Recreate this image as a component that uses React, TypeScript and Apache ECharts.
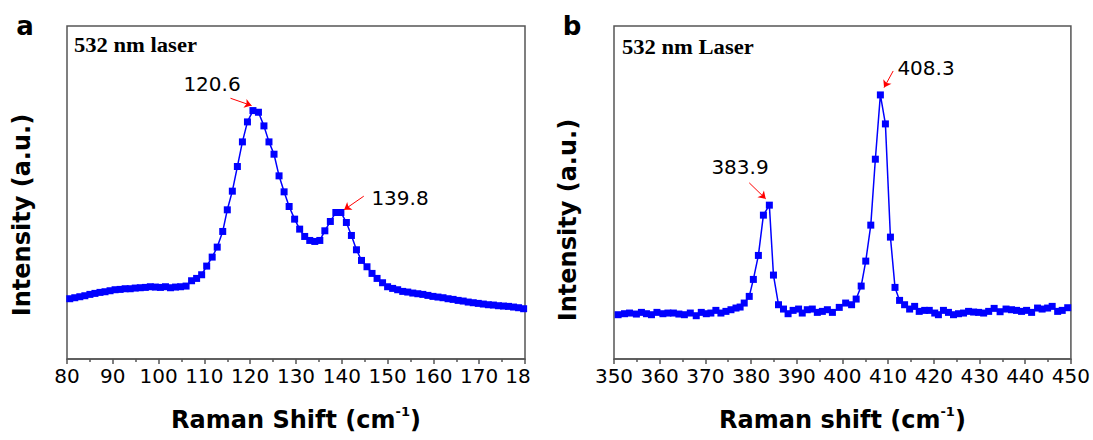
import React, { useEffect, useRef } from "react";
import * as echarts from "echarts";

// Panel a: Raman shift (cm^-1) and intensity (a.u., 0-100 scale)
const leftX = [
  80.6, 81.7, 82.8, 83.9, 85.0, 86.1, 87.2, 88.3, 89.4, 90.5, 91.6, 92.7, 93.8, 94.9, 96.0, 97.1,
  98.2, 99.3, 100.4, 101.5, 102.6, 103.7, 104.8, 106.0, 107.2, 108.3, 109.4, 110.5, 111.7, 112.8,
  114.0, 115.0, 116.1, 117.2, 118.3, 119.4, 120.6, 121.8, 123.0, 124.1, 125.2, 126.3, 127.4, 128.5,
  129.7, 130.8, 131.9, 133.0, 134.1, 135.2, 136.3, 137.5, 138.7, 139.8, 141.0, 142.1, 143.2, 144.3,
  145.5, 146.6, 147.7, 148.9, 150.0, 151.1, 152.2, 153.3, 154.4, 155.5, 156.6, 157.7, 158.8, 159.9,
  161.0, 162.1, 163.2, 164.3, 165.4, 166.5, 167.6, 168.7, 169.8, 170.9, 172.0, 173.1, 174.2, 175.3,
  176.4, 177.5, 178.6, 179.7,
];
const leftY = [
  18.1, 18.4, 18.7, 19.0, 19.4, 19.7, 20.0, 20.2, 20.5, 20.8, 20.9, 21.1, 21.1, 21.3, 21.4, 21.5,
  21.7, 21.6, 21.5, 21.7, 21.4, 21.6, 21.7, 21.9, 23.5, 24.2, 25.3, 27.9, 30.6, 33.6,
  38.3, 44.8, 50.4, 57.8, 65.2, 71.2, 74.6, 74.1, 70.0, 65.2, 61.5, 55.0, 50.2, 45.8,
  42.0, 39.0, 36.8, 35.6, 35.3, 35.6, 38.5, 41.3, 44.0, 44.0, 41.0, 37.1, 32.8, 29.6,
  27.7, 25.7, 24.2, 22.9, 21.7, 21.2, 20.8, 20.3, 20.1, 19.8, 19.6, 19.4, 19.1, 18.8,
  18.6, 18.4, 18.1, 17.9, 17.6, 17.4, 17.1, 16.9, 16.7, 16.5, 16.3, 16.2, 16.0, 15.9,
  15.8, 15.6, 15.4, 15.1,
];

// Panel b
const rightX = [
  350.9, 352.3, 353.4, 354.9, 356.0, 357.1, 358.2, 359.4, 360.7, 361.8, 363.0, 364.2, 365.4, 366.7,
  368.0, 369.1, 370.2, 371.2, 372.3, 373.4, 374.5, 375.6, 376.7, 377.6, 378.5, 379.6, 380.5, 381.6,
  382.7, 384.0, 384.9, 386.0, 387.1, 388.1, 389.2, 390.4, 391.2, 392.3, 393.4, 394.5, 395.6, 396.7,
  397.8, 399.3, 400.7, 402.0, 403.0, 404.1, 405.1, 406.2, 407.2, 408.3, 409.4, 410.5, 411.5, 412.5,
  413.6, 414.7, 415.8, 416.8, 418.0, 419.0, 420.2, 421.0, 422.1, 423.2, 424.3, 425.4, 426.5, 427.6,
  428.7, 429.8, 430.9, 432.0, 433.2, 434.5, 435.8, 437.0, 438.1, 439.2, 440.3, 441.4, 442.7, 443.7,
  444.9, 445.9, 447.1, 448.1, 449.3,
];
const rightY = [
  13.3, 13.6, 13.8, 13.5, 14.0, 13.6, 13.3, 14.0, 13.6, 13.8, 13.8, 13.5, 13.3, 13.8,
  13.0, 14.0, 13.6, 13.8, 14.6, 13.8, 14.3, 14.8, 15.3, 15.6, 16.8, 18.8, 23.9, 31.1,
  43.2, 46.2, 25.2, 16.3, 15.0, 13.6, 14.6, 15.0, 13.8, 14.8, 15.0, 14.0, 14.3, 14.8,
  14.0, 15.5, 16.8, 16.3, 18.0, 21.9, 29.4, 40.2, 60.0, 79.3, 70.6, 36.6, 21.5, 17.6,
  16.3, 15.0, 15.8, 14.3, 14.6, 14.6, 13.8, 13.3, 14.6, 14.0, 13.3, 13.6, 13.8, 14.3,
  14.1, 14.0, 13.8, 14.3, 15.2, 14.2, 15.0, 14.8, 14.6, 14.3, 14.6, 14.0, 15.3, 15.0,
  15.3, 15.8, 14.3, 14.6, 15.4,
];

// Peak annotations: label and arrow (from -> to) in data coordinates
const leftPeakLabels = ["120.6", "139.8"];
const leftArrows = [
  [[115.7, 78.3], [120.3, 76.1]],
  [[144.8, 48.9], [140.5, 44.8]],
];
const rightPeakLabels = ["383.9", "408.3"];
const rightArrows = [
  [[379.6, 52.9], [383.2, 48.1]],
  [[411.1, 86.5], [409.1, 81.5]],
];

const BLUE = "#0000ff";
const FRAME = "#555555";

function makeXAxis(gridIndex: number, min: number, max: number, name: string, lastCut: boolean) {
  return {
    type: "value",
    gridIndex,
    min,
    max,
    interval: 10,
    name,
    nameLocation: "middle",
    nameGap: 46,
    nameTextStyle: {
      fontFamily: "DejaVu Sans",
      fontWeight: "bold",
      fontSize: 24,
      color: "#000",
      lineHeight: 30,
      rich: {
        sup: {
          fontFamily: "DejaVu Sans",
          fontWeight: "bold",
          fontSize: 13,
          lineHeight: 13,
          verticalAlign: "top",
          color: "#000",
        },
      },
    },
    axisLine: { show: true, lineStyle: { color: FRAME, width: 1.5 } },
    axisTick: { show: true, inside: false, length: 5, lineStyle: { color: FRAME, width: 1.5 } },
    minorTick: { show: true, splitNumber: 2, length: 3, lineStyle: { color: FRAME, width: 1.5 } },
    splitLine: { show: false },
    minorSplitLine: { show: false },
    axisLabel: {
      fontFamily: "DejaVu Sans",
      fontSize: 20,
      color: "#000",
      margin: 7,
      formatter: (v: number) => (lastCut && v === max ? "{cut|18}" : String(v)),
      rich: {
        cut: { fontFamily: "DejaVu Sans", fontSize: 20, color: "#000", padding: [0, 14, 0, 0] },
      },
    },
  };
}

function makeYAxis(gridIndex: number) {
  return {
    type: "value",
    gridIndex,
    min: 0,
    max: 100,
    axisLine: { show: false },
    axisTick: { show: false },
    axisLabel: { show: false },
    splitLine: { show: false },
  };
}

function makeSeries(idx: number, xs: number[], ys: number[], arrows: number[][][]) {
  return {
    type: "line",
    xAxisIndex: idx,
    yAxisIndex: idx,
    data: xs.map((x, i) => [x, ys[i]]),
    symbol: "rect",
    symbolSize: 7,
    itemStyle: { color: BLUE },
    lineStyle: { color: BLUE, width: 1.5 },
    markLine: {
      silent: true,
      symbol: ["none", "arrow"],
      symbolSize: 7,
      lineStyle: { color: "#ff0000", width: 1, type: "solid" },
      label: { show: false },
      data: arrows.map((a) => [{ coord: a[0] }, { coord: a[1] }]),
    },
  };
}

const sans = "DejaVu Sans";

export default function App() {
  const ref = useRef<HTMLDivElement>(null);
  useEffect(() => {
    if (!ref.current) return;
    const chart = echarts.init(ref.current, null, { renderer: "svg" });
    const txt = (text: string, x: number, y: number, extra: any = {}) => ({
      type: "text",
      x,
      y,
      silent: true,
      ...(extra.rotation !== undefined ? { rotation: extra.rotation } : {}),
      ...(extra.scaleX !== undefined ? { scaleX: extra.scaleX } : {}),
      style: {
        text,
        fontFamily: extra.fontFamily || sans,
        fontSize: extra.fontSize || 20,
        fontWeight: extra.fontWeight || "normal",
        fill: extra.fill || "#000",
        align: extra.align || "center",
        verticalAlign: "middle",
      },
    });
    chart.setOption({
      animation: false,
      backgroundColor: "#fff",
      grid: [
        { left: 67, top: 26, width: 458, height: 337, show: true, borderColor: FRAME, borderWidth: 1.5 },
        { left: 614, top: 26, width: 459, height: 337, show: true, borderColor: FRAME, borderWidth: 1.5 },
      ],
      xAxis: [
        makeXAxis(0, 80, 180, "Raman Shift (cm{sup|-1})", true),
        makeXAxis(1, 350, 450, "Raman shift (cm{sup|-1})", false),
      ],
      yAxis: [makeYAxis(0), makeYAxis(1)],
      series: [
        makeSeries(0, leftX, leftY, leftArrows),
        makeSeries(1, rightX, rightY, rightArrows),
      ],
      graphic: [
        txt("a", 25, 26, { fontSize: 26, fontWeight: "bold" }),
        txt("b", 572, 26, { fontSize: 26, fontWeight: "bold" }),
        txt("532 nm laser", 74, 45, { fontFamily: "Liberation Serif", fontSize: 20, fontWeight: "bold", align: "left", scaleX: 1.13 }),
        txt("532 nm Laser", 622, 47, { fontFamily: "Liberation Serif", fontSize: 20, fontWeight: "bold", align: "left", scaleX: 1.13 }),
        txt(leftPeakLabels[0], 212, 84),
        txt(leftPeakLabels[1], 400, 198),
        txt(rightPeakLabels[0], 740, 167),
        txt(rightPeakLabels[1], 926, 68),
        txt("Intensity (a.u.)", 22, 215, { fontSize: 24, fontWeight: "bold", rotation: Math.PI / 2 }),
        txt("Intensity (a.u.)", 568, 220, { fontSize: 24, fontWeight: "bold", rotation: Math.PI / 2 }),
      ],
    });
    return () => chart.dispose();
  }, []);
  return (
    <div
      ref={ref}
      style={{ position: "fixed", left: 0, top: 0, width: 1093, height: 440, background: "#fff" }}
    />
  );
}
